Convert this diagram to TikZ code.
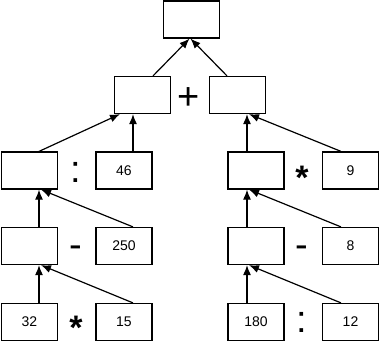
\documentclass[tikz,border=0pt]{standalone}
\usepackage{fontspec}
\setmainfont{Liberation Sans}
\usetikzlibrary{arrows.meta}
\begin{document}
\begin{tikzpicture}[x=1pt,y=-1pt,
  box/.style={draw,line width=1.2pt,minimum width=56pt,minimum height=37pt,inner sep=0pt,font=\fontsize{14}{16}\selectfont},
  op/.style={inner sep=0pt,anchor=base,font=\fontsize{38}{40}\selectfont},
  star/.style={inner sep=0pt,anchor=base,font=\fontsize{34}{40}\selectfont\bfseries},
  arr/.style={line width=1.2pt,-{Latex[length=10pt,width=8pt]}}]
\useasboundingbox (0,0) rectangle (380,357);
\node[box] (T) at (191.5,19.5) {};
\node[box] (A) at (142.5,95) {};
\node[box] (B) at (237.5,95) {};
\node[box] (C1) at (29.5,170.5) {};
\node[box] (C2) at (124,170.5) {46};
\node[box] (C3) at (256,170.5) {};
\node[box] (C4) at (350.5,170.5) {9};
\node[box] (D1) at (29.5,246) {};
\node[box] (D2) at (124,246) {250};
\node[box] (D3) at (256,246) {};
\node[box] (D4) at (350.5,246) {8};
\node[box] (E1) at (29.5,322) {32};
\node[box] (E2) at (124,322) {15};
\node[box] (E3) at (256,322) {180};
\node[box] (E4) at (350.5,322) {12};
\node[op] (o1) at (189,109) {+};
\node[op] (o2) at (76,182) {:};
\node[star] (o3) at (302,189) {*};
\node[op] (o4) at (76,257) {-};
\node[op] (o5) at (302,257) {-};
\node[star] (o6) at (76,339.5) {*};
\node[op] (o7) at (302,332.5) {:};
% left column
\draw[arr] ([xshift=9.5pt]E1.north) -- ([xshift=9.5pt]D1.south);
\draw[arr] ([xshift=9pt]E2.north) -- ([xshift=11.5pt]D1.south);
\draw[arr] ([xshift=9.5pt]D1.north) -- ([xshift=9.5pt]C1.south);
\draw[arr] ([xshift=9pt]D2.north) -- ([xshift=11.5pt]C1.south);
\draw[arr] ([xshift=9.5pt]C1.north) -- ([xshift=-22.5pt]A.south);
\draw[arr] ([xshift=9pt]C2.north) -- ([xshift=-9.5pt]A.south);
% right column
\draw[arr] ([xshift=-9pt]E3.north) -- ([xshift=-9pt]D3.south);
\draw[arr] ([xshift=-9.5pt]E4.north) -- ([xshift=-7pt]D3.south);
\draw[arr] ([xshift=-9pt]D3.north) -- ([xshift=-9pt]C3.south);
\draw[arr] ([xshift=-9.5pt]D4.north) -- ([xshift=-7pt]C3.south);
\draw[arr] ([xshift=-9pt]C3.north) -- ([xshift=9.5pt]B.south);
\draw[arr] ([xshift=-9.5pt]C4.north) -- ([xshift=11.5pt]B.south);
% top
\draw[arr] ([xshift=10.5pt]A.north) -- ([xshift=-2pt]T.south);
\draw[arr] ([xshift=-10.5pt]B.north) -- ([xshift=-1pt]T.south);
\end{tikzpicture}
\end{document}
